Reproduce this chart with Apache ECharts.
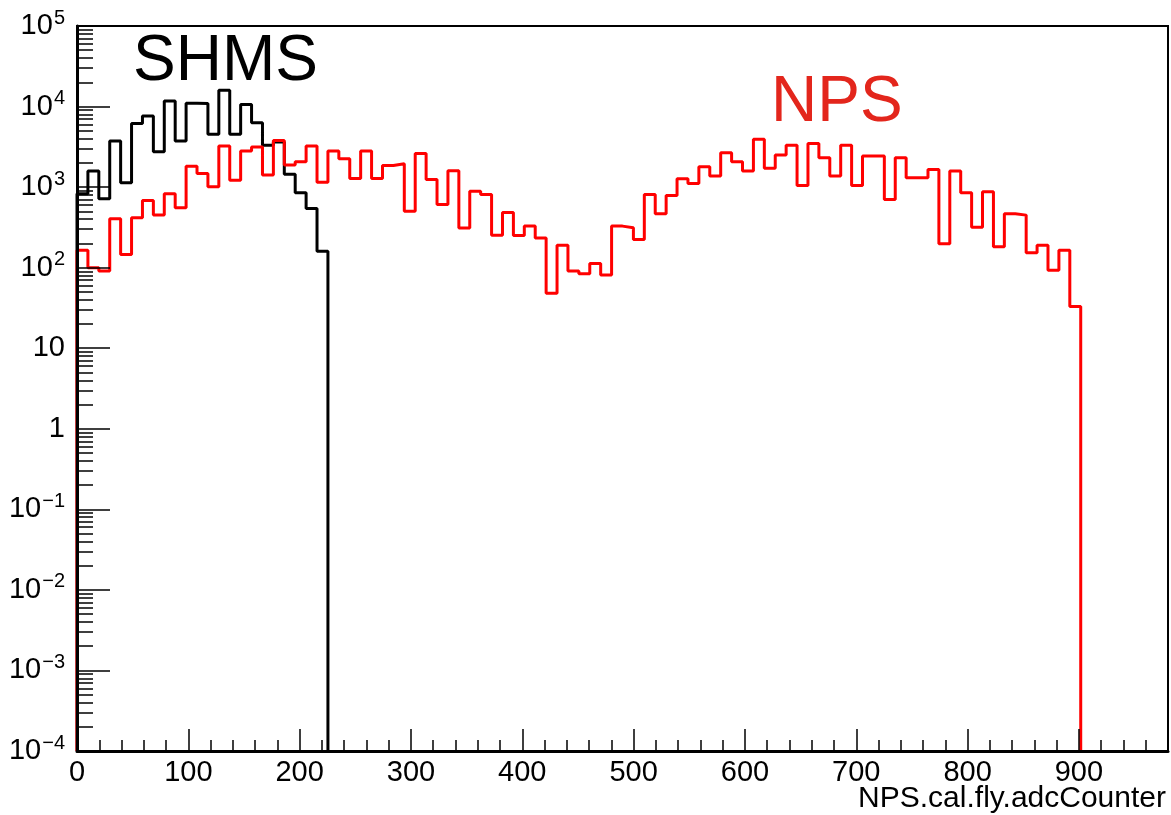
<html>
<head>
<meta charset="utf-8">
<title>NPS.cal.fly.adcCounter</title>
<script src="https://cdn.jsdelivr.net/npm/echarts@6/dist/echarts.min.js"></script>
</head>
<body style="margin:0">
<div id="main" style="width:1171px;height:815px;"></div>
<script type="text/javascript">
// histogram binning (100 bins over 0..980)
var binWidth = 9.8;
var xMin = 0, xMax = 980;
var yMin = 1e-4, yMax = 1e5;

// bin contents, bin 0 starts at x = 0
var shmsCounts = [830, 1580, 718, 3730, 1135, 6140, 7620, 2750, 11700, 3730,
    10960, 10900, 4520, 15900, 4520, 10640, 6300, 3320, 3630, 1440,
    850, 543, 160];
var npsCounts = [165, 100, 91, 405, 146, 417, 683, 449, 828, 555,
    1820, 1480, 1010, 3230, 1220, 2800, 3140, 1410, 3800, 1875,
    2070, 3230, 1150, 2800, 2250, 1280, 2800, 1280, 1860, 1950,
    503, 2620, 1240, 610, 1600, 310, 890, 811, 253, 485,
    251, 330, 233, 48, 190, 91, 84, 113, 81, 328,
    313, 224, 811, 467, 789, 1270, 1110, 1790, 1370, 2670,
    2070, 1580, 3920, 1710, 2500, 3300, 1050, 3490, 2320, 1370,
    3300, 1050, 2430, 2430, 703, 2320, 1310, 1310, 1660, 198,
    1580, 851, 318, 877, 182, 467, 449, 153, 190, 93,
    164, 33];

var xTickLabels = [0, 100, 200, 300, 400, 500, 600, 700, 800, 900];
var yDecades = [-4, -3, -2, -1, 0, 1, 2, 3, 4, 5];

var font = 'Liberation Sans, Arial, Helvetica, sans-serif';

// outline of a histogram as step points, dropping to the floor at both ends
function histSteps(counts) {
    var pts = [[xMin, yMin]];
    for (var i = 0; i < counts.length; i++) {
        pts.push([i * binWidth, counts[i]]);
    }
    var end = counts.length * binWidth;
    pts.push([end, counts[counts.length - 1]]);
    pts.push([end, yMin]);
    return pts;
}

// minor log ticks 2..9 x 10^k, in log10 units
var yMinorTicks = [];
for (var k = yDecades[0]; k < yDecades[yDecades.length - 1]; k++) {
    for (var m = 2; m <= 9; m++) yMinorTicks.push(k + Math.log10(m));
}

function decadeLabel(v) {
    var e = Math.round(Math.log10(v));
    if (e === 0) return '1';
    if (e === 1) return '10';
    return '10{sup|' + String(e).replace('-', '\u2212') + '}';
}

var myChart = echarts.init(document.getElementById('main'));

var option = {
    backgroundColor: '#fff',
    animation: false,
    grid: {
        left: 77, top: 26, right: 3, bottom: 64,
        show: true, borderColor: '#000', borderWidth: 2
    },
    xAxis: [{
        type: 'value', min: xMin, max: xMax, interval: 100,
        position: 'bottom', z: 5,
        axisLine: {onZero: false, lineStyle: {color: '#000', width: 3}},
        axisTick: {inside: true, length: 22, lineStyle: {color: '#000', width: 1.5}},
        splitLine: {show: false},
        axisLabel: {
            color: '#000', fontFamily: font, fontSize: 29, margin: 7,
            formatter: function (v) {
                return xTickLabels.indexOf(v) >= 0 ? String(v) : '';
            }
        }
    }, {
        type: 'value', min: xMin, max: xMax, interval: 20,
        position: 'bottom', z: 5,
        axisLine: {show: false, onZero: false},
        axisTick: {inside: true, length: 11, lineStyle: {color: '#000', width: 1.5}},
        axisLabel: {show: false},
        splitLine: {show: false}
    }],
    yAxis: [{
        type: 'log', logBase: 10, min: yMin, max: yMax, splitNumber: 9,
        position: 'left', z: 5,
        axisLine: {onZero: false, lineStyle: {color: '#000', width: 3}},
        axisTick: {inside: true, length: 33, lineStyle: {color: '#000', width: 1.5}},
        splitLine: {show: false},
        axisLabel: {
            color: '#000', fontFamily: font, fontSize: 29, margin: 12,
            formatter: decadeLabel,
            rich: {
                sup: {fontFamily: font, fontSize: 20, verticalAlign: 'top', padding: [0, 0, 16, 1]}
            }
        }
    }, {
        type: 'value', min: yDecades[0], max: yDecades[yDecades.length - 1],
        position: 'left', z: 5,
        axisLine: {show: false, onZero: false},
        axisLabel: {show: false},
        splitLine: {show: false},
        axisTick: {
            inside: true, length: 16, customValues: yMinorTicks,
            lineStyle: {color: '#000', width: 1.5}
        }
    }],
    series: [{
        name: 'SHMS',
        type: 'line',
        step: 'end',
        z: 2,
        xAxisIndex: 0, yAxisIndex: 0,
        showSymbol: false,
        lineStyle: {color: '#000', width: 3},
        data: histSteps(shmsCounts)
    }, {
        name: 'NPS',
        type: 'line',
        step: 'end',
        z: 2,
        xAxisIndex: 0, yAxisIndex: 0,
        showSymbol: false,
        lineStyle: {color: '#ff0000', width: 3},
        data: histSteps(npsCounts)
    }],
    graphic: [{
        type: 'text', left: 133, top: 30,
        style: {text: 'SHMS', fill: '#000', font: '64px ' + font}
    }, {
        type: 'text', left: 771, top: 71,
        style: {text: 'NPS', fill: '#e3261c', font: '64px ' + font}
    }, {
        type: 'text', right: 5, top: 784,
        style: {text: 'NPS.cal.fly.adcCounter', fill: '#000', font: '30px ' + font}
    }]
};

myChart.setOption(option);
</script>
</body>
</html>
